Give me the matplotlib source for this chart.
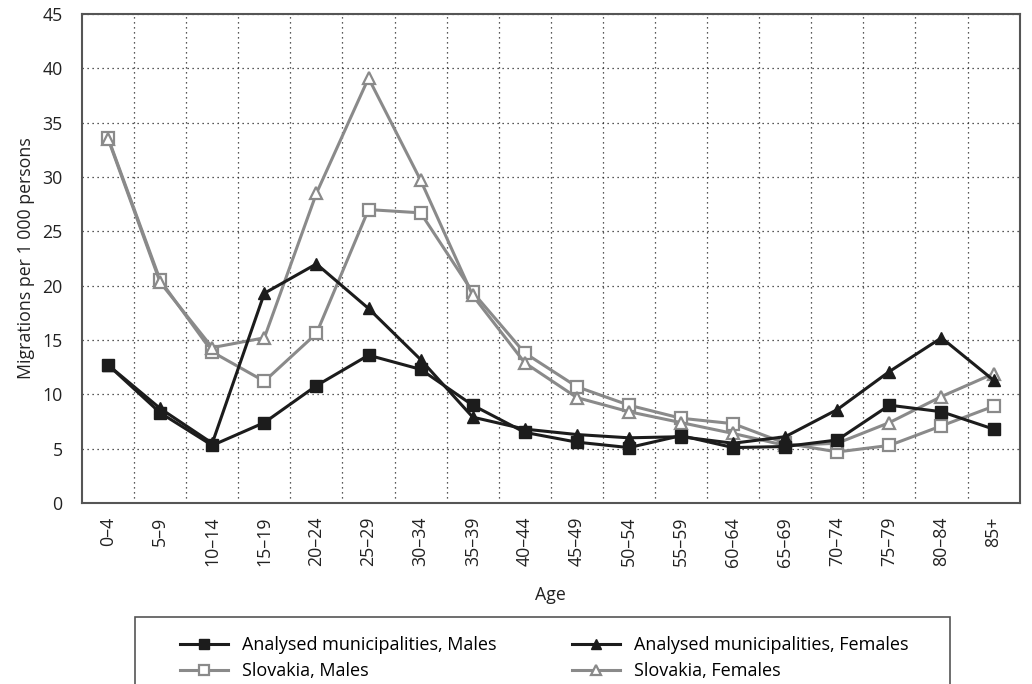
import numpy as np
import matplotlib.pyplot as plt
from matplotlib.patches import Rectangle
from matplotlib.ticker import MultipleLocator, FixedLocator

plt.rcParams['font.family'] = ['Open Sans', 'DejaVu Sans']

ages = ['0–4', '5–9', '10–14', '15–19', '20–24', '25–29', '30–34', '35–39', '40–44',
        '45–49', '50–54', '55–59', '60–64', '65–69', '70–74', '75–79', '80–84', '85+']
mun_males = [12.7, 8.3, 5.3, 7.4, 10.8, 13.6, 12.3, 9.0, 6.5,
             5.6, 5.1, 6.2, 5.1, 5.2, 5.8, 9.0, 8.4, 6.8]
mun_females = [12.7, 8.7, 5.5, 19.3, 22.0, 17.9, 13.2, 7.9, 6.8,
               6.3, 6.0, 6.1, 5.5, 6.1, 8.6, 12.1, 15.2, 11.3]
svk_males = [33.6, 20.5, 13.9, 11.2, 15.6, 27.0, 26.7, 19.4, 13.8,
             10.7, 9.0, 7.8, 7.3, 5.5, 4.7, 5.3, 7.1, 8.9]
svk_females = [33.5, 20.3, 14.3, 15.2, 28.5, 39.1, 29.7, 19.1, 12.9,
               9.7, 8.4, 7.4, 6.4, 5.3, 5.5, 7.4, 9.8, 11.9]

dark = '#1c1c1c'
grey = '#8a8a8a'
fs = 12.8

W, H = 1032, 684
fig = plt.figure(figsize=(W / 100, H / 100), dpi=100)
ax = fig.add_axes([0.0795, 0.2646, 0.9085, 0.715])
x = np.arange(len(ages))

h1, = ax.plot(x, mun_males, color=dark, lw=2.2, marker='s', ms=8.5, mfc=dark, mec=dark,
              label='Analysed municipalities, Males', zorder=4)
h2, = ax.plot(x, mun_females, color=dark, lw=2.2, marker='^', ms=8.5, mfc=dark, mec=dark,
              label='Analysed municipalities, Females', zorder=4)
h3, = ax.plot(x, svk_males, color=grey, lw=2.2, marker='s', ms=8.5, mfc='white', mec=grey,
              mew=1.6, label='Slovakia, Males', zorder=3)
h4, = ax.plot(x, svk_females, color=grey, lw=2.2, marker='^', ms=8.5, mfc='white', mec=grey,
              mew=1.6, label='Slovakia, Females', zorder=3)

ax.set_xlim(-0.5, len(ages) - 0.5)
ax.set_ylim(0, 45)
ax.yaxis.set_major_locator(MultipleLocator(5))
ax.set_xticks(x)
ax.set_xticklabels(ages, rotation=90)
ax.xaxis.set_minor_locator(FixedLocator(np.arange(0.5, len(ages) - 1, 1)))
ax.tick_params(axis='both', which='both', length=0, labelsize=fs, colors='#222222')
ax.tick_params(axis='x', pad=10)
ax.tick_params(axis='y', pad=14)
ax.grid(True, which='minor', axis='x', color='#222222', lw=0.9, linestyle=(0, (1, 3)))
ax.grid(True, which='major', axis='y', color='#222222', lw=0.9, linestyle=(0, (1, 3)))
for s in ax.spines.values():
    s.set_color('#555555')
    s.set_linewidth(1.5)

ax.set_xlabel('Age', fontsize=fs, labelpad=14, color='#222222')
ax.set_ylabel('Migrations per 1 000 persons', fontsize=fs, labelpad=5, color='#222222')

# legend box drawn separately so the padding can be wider than tall
fig.patches.append(Rectangle((135 / W, -0.05), 815 / W, 0.05 + 1 - 617 / H,
                             transform=fig.transFigure, fill=False,
                             edgecolor='#555555', lw=1.2))
# column-major fill: order handles so rows read municipalities / Slovakia
fig.legend([h1, h3, h2, h4], [h.get_label() for h in (h1, h3, h2, h4)],
           loc='upper left', bbox_to_anchor=(180 / W, 1 - 636 / H), ncol=2,
           fontsize=13, frameon=False, handlelength=2.65, columnspacing=4.2,
           borderpad=0, labelspacing=0.45, handletextpad=0.78, markerscale=0.8,
           borderaxespad=0)

fig.savefig('out.png', dpi=100)
